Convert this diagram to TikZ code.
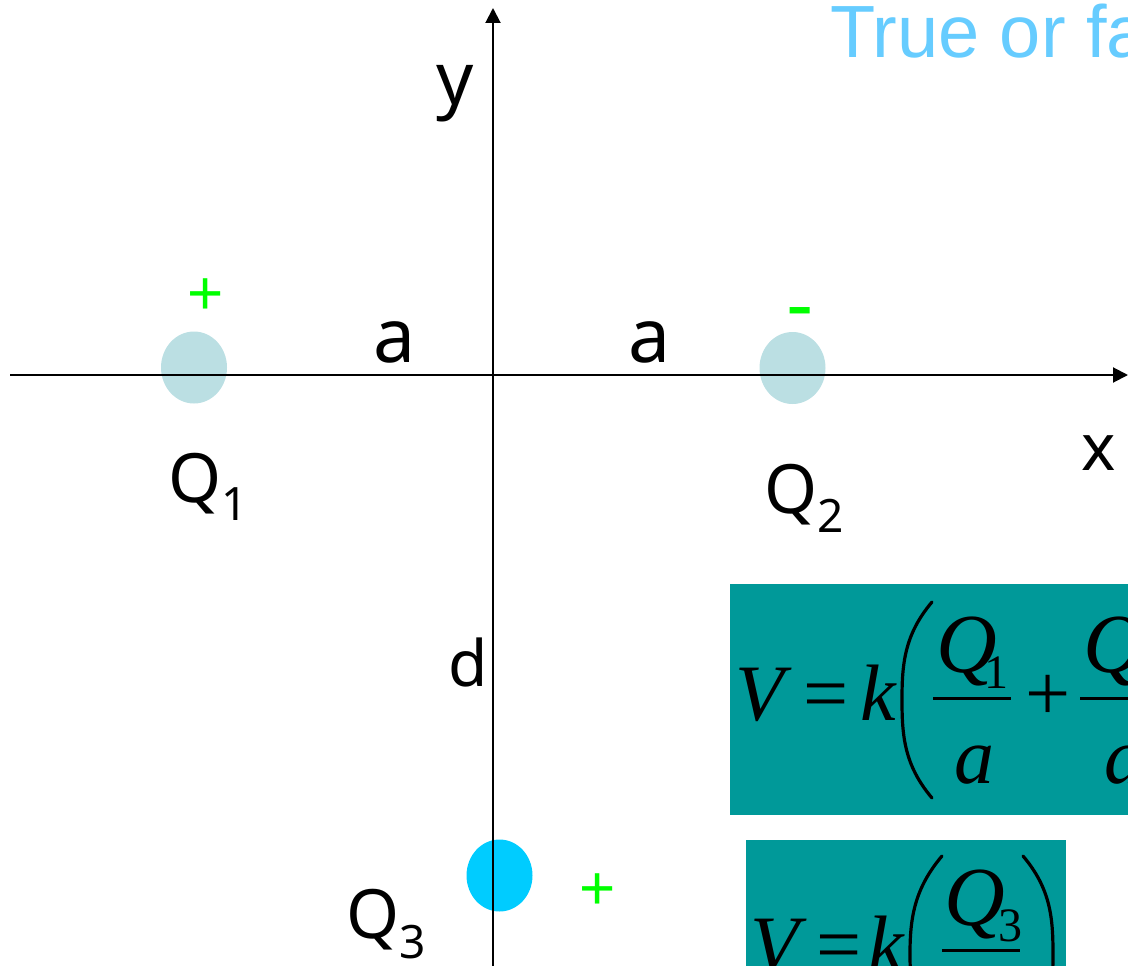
\documentclass[tikz,border=0pt]{standalone}
\usepackage{fontspec}
\setmainfont{Noto Sans}
\newfontfamily\arialf{Liberation Sans}
\newfontfamily\timesf{Liberation Serif}
\usetikzlibrary{arrows.meta,shapes.geometric}
\definecolor{chargegray}{HTML}{BBDFE3}
\definecolor{chargeblue}{HTML}{00CCFF}
\definecolor{plusgreen}{HTML}{00FF00}
\definecolor{titleblue}{HTML}{66CCFF}
\definecolor{boxteal}{HTML}{009999}
\newcommand\fsz[1]{\fontsize{#1}{#1}\selectfont}
\tikzset{
  lbl/.style={inner sep=0pt, outer sep=0pt, anchor=base west, font=\fsz{66}},
  axisline/.style={line width=2pt, -{Triangle[length=15pt,width=15pt]}},
  charge/.style={ellipse, draw=none, inner sep=0pt, minimum width=66pt, minimum height=72pt},
  sign/.style={inner sep=0pt, outer sep=0pt, anchor=base west, text=plusgreen, font=\arialf\fsz{62}},
  mit/.style={inner sep=0pt, outer sep=0pt, anchor=base west, font=\timesf\itshape\fsz{80}},
  mq/.style={inner sep=0pt, outer sep=0pt, anchor=base west, font=\timesf\itshape\fsz{84}},
  mrm/.style={inner sep=0pt, outer sep=0pt, anchor=base west, font=\timesf\fsz{80}},
  msub/.style={inner sep=0pt, outer sep=0pt, anchor=base west, font=\timesf\fsz{48}},
  formbox/.style={fill=boxteal, draw=none},
  paren/.style={line width=3.2pt, line cap=round},
  fbar/.style={line width=3pt},
}
\begin{document}
\begin{tikzpicture}[x=1pt,y=-1pt]
\useasboundingbox (0,0) rectangle (1128,966);
\clip (0,0) rectangle (1128,966);

% charges
\node[charge, fill=chargegray] (q1) at (194,367.5) {};
\node[charge, fill=chargegray] (q2) at (792.5,368) {};
\node[charge, fill=chargeblue] (q3) at (499.5,875.5) {};

% axes
\coordinate (xl) at (10,375);
\coordinate (xr) at (1128,375);
\coordinate (yb) at (493,970);
\coordinate (yt) at (493,8);
\draw[axisline] (xl) -- (xr);
\draw[axisline] (yb) -- (yt);

% labels
\node[lbl, font=\fsz{73}] (ylab) at (436,104) {y};
\node[lbl, font=\fsz{75}] (a1) at (373,362) {a};
\node[lbl, font=\fsz{75}] (a2) at (628,362) {a};
\node[lbl, font=\fsz{65}] (xlab) at (1081,470) {x};
\node[lbl, font=\fsz{64}] (dlab) at (448,686) {d};
\node[lbl, font=\fsz{68}] (q1lab) at (168,502) {Q\raisebox{-18pt}{\fsz{46}1}};
\node[lbl, font=\fsz{68}] (q2lab) at (764,513) {Q\raisebox{-19pt}{\fsz{46}2}};
\node[lbl, font=\fsz{68}] (q3lab) at (346,938) {Q\raisebox{-20pt}{\fsz{46}3}};

% signs
\node[sign] (p1) at (187,314.5) {+};
\node[sign] (p3) at (579.5,909.5) {+};
\node[sign, font=\arialf\fsz{82}] (m2) at (786,332.5) {-};

% title
\node[lbl, font=\arialf\fsz{74}, text=titleblue] (title) at (830,58) {True or fa};

% formula box 1
\path[formbox] (730,584) rectangle (1140,815);
\node[mit] (v1) at (735,720) {V};
\node[mrm] (eq1) at (803,720) {=};
\node[mit] (k1) at (860,720) {k};
\draw[paren] (932,602) .. controls (904,635) and (902,665) .. (902,700)
                       .. controls (902,735) and (904,765) .. (932,798);
\node[mq] (n1) at (936,672) {Q};
\node[msub] (s1) at (984,688) {1};
\coordinate (b1l) at (933,698);
\coordinate (b1r) at (1011,698);
\draw[fbar] (b1l) -- (b1r);
\node[mit] (d1) at (954,783) {a};
\node[mrm] (plus1) at (1025,720) {+};
\node[mq] (n2) at (1083,672) {Q};
\coordinate (b2l) at (1080,698);
\coordinate (b2r) at (1160,698);
\draw[fbar] (b2l) -- (b2r);
\node[mit] (d2) at (1104,783) {a};

% formula box 2
\path[formbox] (746,840) rectangle (1066,990);
\node[mit] (v2) at (750,971) {V};
\node[mrm] (eq2) at (816,971) {=};
\node[mit] (k2) at (868,971) {k};
\draw[paren] (942,856) .. controls (914,889) and (910,919) .. (910,954)
                       .. controls (910,989) and (914,1019) .. (942,1052);
\draw[paren] (1023,856) .. controls (1051,889) and (1053,919) .. (1053,954)
                        .. controls (1053,989) and (1051,1019) .. (1023,1052);
\node[mq] (n3) at (944,925) {Q};
\node[msub] (s3) at (998,941) {3};
\coordinate (b3l) at (942,950);
\coordinate (b3r) at (1020,950);
\draw[fbar] (b3l) -- (b3r);
\end{tikzpicture}
\end{document}
